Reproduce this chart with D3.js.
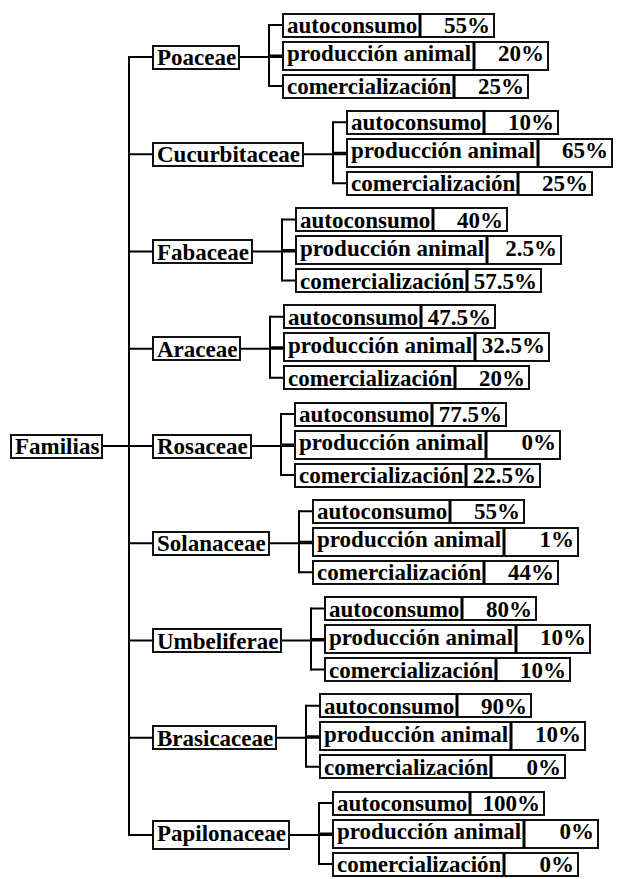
<!DOCTYPE html>
<html>
<head>
<meta charset="utf-8">
<script src="https://cdn.jsdelivr.net/npm/d3@7"></script>
<style>
  body { margin: 0; background: #fff; }
  svg text { font-family: "Liberation Serif", "DejaVu Serif", "Noto Serif", Georgia, serif; font-weight: 700; font-size: 23px; fill: #000; }
</style>
</head>
<body>
<script>
// data
var rootName = "Familias";
var families = ["Poaceae", "Cucurbitaceae", "Fabaceae", "Araceae", "Rosaceae",
  "Solanaceae", "Umbeliferae", "Brasicaceae", "Papilonaceae"];
var uses = ["autoconsumo", "producción animal", "comercialización"];
var autoconsumo = [55, 10, 40, 47.5, 77.5, 55, 80, 90, 100];
var produccionAnimal = [20, 65, 2.5, 32.5, 0, 1, 10, 10, 0];
var comercializacion = [25, 25, 57.5, 20, 22.5, 44, 10, 0, 0];

window.onload = () => {
  var width = 618, height = 879;
  var series = [autoconsumo, produccionAnimal, comercializacion];

  var data = {
    name: rootName,
    children: families.map(function (f, i) {
      return {
        name: f,
        children: uses.map(function (u, j) { return { name: u, value: series[j][i] }; })
      };
    })
  };
  var root = d3.hierarchy(data);

  // vertical positions
  var y = d3.scalePoint().domain(families).range([57, 835]);
  var leafY = d3.scalePoint().domain(uses).range([-32, 29]);

  var svg = d3.select("body").append("svg")
    .attr("width", width)
    .attr("height", height);

  var lines = svg.append("g").attr("stroke", "#000").attr("stroke-width", 2).attr("fill", "none");
  var boxes = svg.append("g");

  var valueWidth = 74;
  var trunkX = 129, familyX = 153;

  // draws a boxed label, returns its width
  function box(x, cy, label, valueText) {
    var desc = /[gjpqy]/.test(label);
    var hgt = desc ? 28 : 23;
    var g = boxes.append("g");
    var rect = g.append("rect");
    var t = g.append("text")
      .attr("x", x + 4)
      .attr("y", cy + (desc ? 5.5 : 8))
      .text(label);
    var w = Math.round(t.node().getComputedTextLength() + 7);
    rect.attr("x", x).attr("y", Math.round(cy - hgt / 2))
      .attr("width", w).attr("height", hgt)
      .attr("fill", "#fff").attr("stroke", "#111").attr("stroke-width", 2);
    if (valueText !== undefined) {
      g.append("rect")
        .attr("x", x + w).attr("y", Math.round(cy - hgt / 2))
        .attr("width", valueWidth).attr("height", hgt)
        .attr("fill", "#fff").attr("stroke", "#111").attr("stroke-width", 2);
      g.append("line")
        .attr("x1", x + w).attr("x2", x + w)
        .attr("y1", Math.round(cy - hgt / 2)).attr("y2", Math.round(cy - hgt / 2) + hgt)
        .attr("stroke", "#000").attr("stroke-width", 3);
      g.append("text")
        .attr("x", x + w + valueWidth - 4)
        .attr("y", cy + (desc ? 5.5 : 8))
        .attr("text-anchor", "end")
        .text(valueText);
    }
    return w;
  }

  // root
  var rootY = y(families[4]);
  var rootW = box(11, rootY, root.data.name);
  lines.append("line").attr("x1", 11 + rootW).attr("x2", trunkX).attr("y1", rootY).attr("y2", rootY);
  lines.append("line").attr("x1", trunkX).attr("x2", trunkX)
    .attr("y1", y(families[0]) - 1).attr("y2", y(families[families.length - 1]) + 1);

  root.children.forEach(function (fam) {
    var fy = y(fam.data.name);
    lines.append("line").attr("x1", trunkX).attr("x2", familyX).attr("y1", fy).attr("y2", fy);
    var fw = box(familyX, fy, fam.data.name);
    var bracketX = familyX + fw + 30;
    var leafX = bracketX + 14;
    lines.append("line").attr("x1", familyX + fw).attr("x2", leafX).attr("y1", fy).attr("y2", fy);
    lines.append("line").attr("x1", bracketX).attr("x2", bracketX)
      .attr("y1", fy + leafY(uses[0]) - 1).attr("y2", fy + leafY(uses[2]) + 1);
    fam.children.forEach(function (leaf) {
      var ly = fy + leafY(leaf.data.name);
      lines.append("line").attr("x1", bracketX).attr("x2", leafX).attr("y1", ly).attr("y2", ly);
      box(leafX, ly, leaf.data.name, leaf.data.value + "%");
    });
  });
};
</script>
</body>
</html>
